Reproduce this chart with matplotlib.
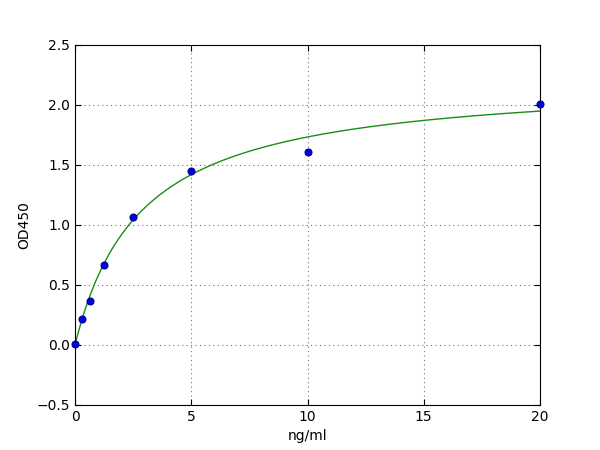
import numpy as np
import matplotlib
matplotlib.use("Agg")
import matplotlib.pyplot as plt

# standard concentrations and measured OD
conc = [0, 0.3125, 0.625, 1.25, 2.5, 5, 10, 20]
od = [0.01, 0.22, 0.37, 0.67, 1.07, 1.45, 1.61, 2.01]

# fitted curve parameters (hyperbolic / 4PL with b=1)
fit_min = 0.0
fit_max = 2.226
fit_c = 2.84
fit_b = 1.0

xs = np.linspace(0, 20, 400)
ys = fit_max + (fit_min - fit_max) / (1 + (xs / fit_c) ** fit_b)

fig = plt.figure(figsize=(6, 4.5), dpi=100)
ax = fig.add_axes([0.125, 0.1, 0.775, 0.8])
ax.plot(xs, ys, color=(0.1, 0.55, 0.1), lw=1)
ax.plot(conc, od, 'o', color=(0, 0, 0.9), markeredgecolor=(0, 0, 0.55),
        markersize=5, markeredgewidth=0.8, clip_on=False, zorder=3)

ax.set_xlim(0, 20)
ax.set_ylim(-0.5, 2.5)
ax.set_xticks([0, 5, 10, 15, 20])
ax.set_yticks(np.arange(-0.5, 2.51, 0.5))
ax.grid(True, color='0.45', linestyle=(0, (1, 3)), linewidth=0.8)
ax.tick_params(direction='in', top=True, right=True, labelsize=10, length=4)
ax.set_xlabel('ng/ml', fontsize=10)
ax.set_ylabel('OD450', fontsize=10)

fig.savefig('out.png', dpi=100)
